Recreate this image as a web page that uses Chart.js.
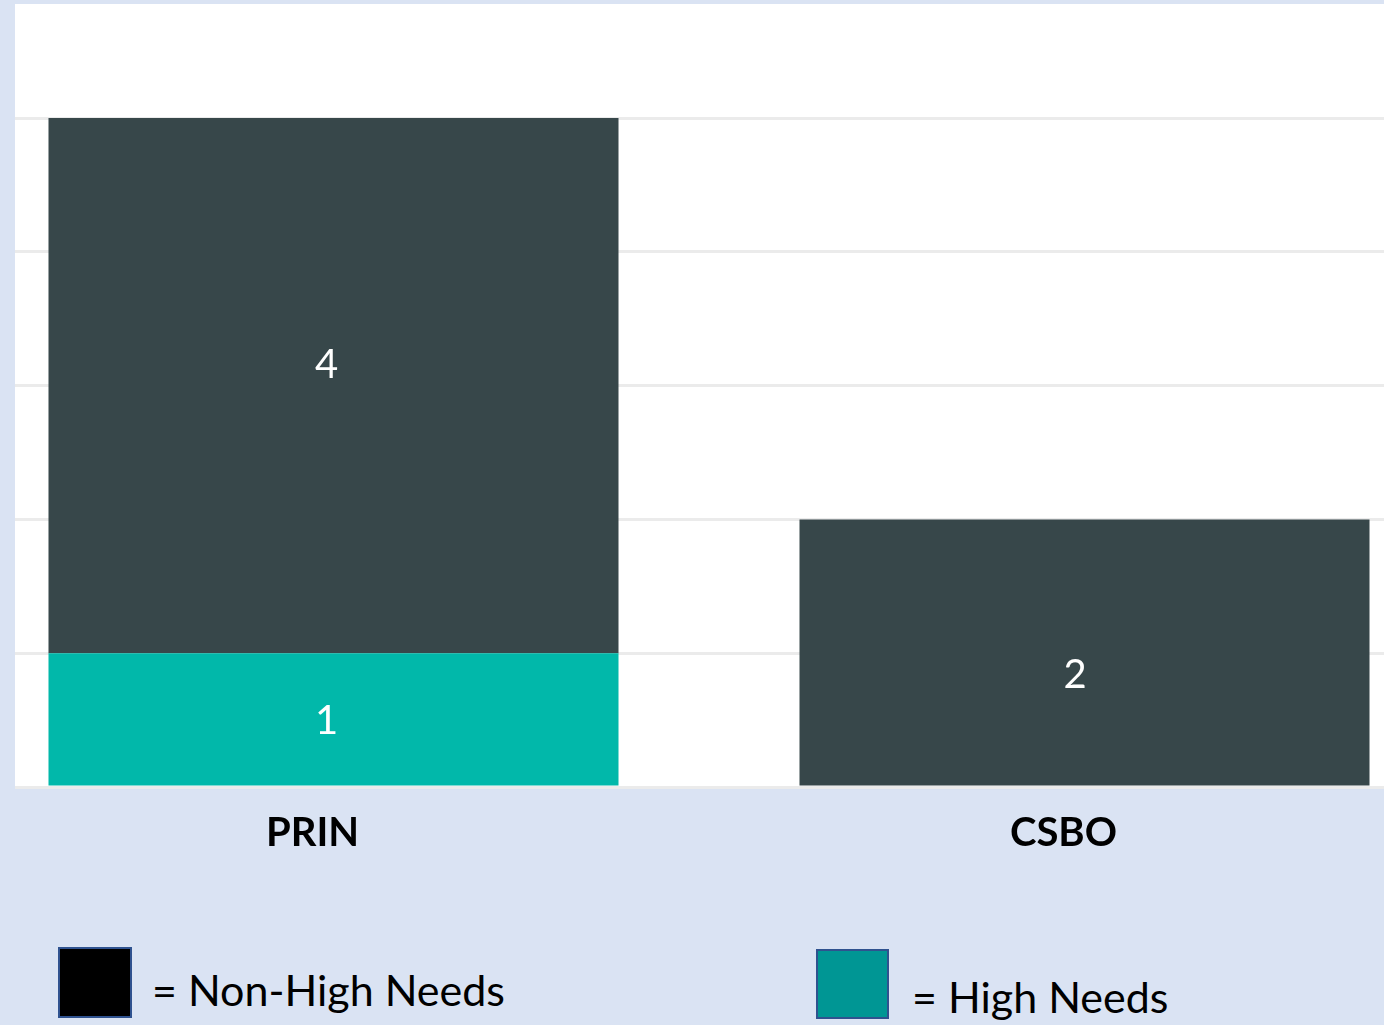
<!DOCTYPE html>
<html><head><meta charset="utf-8">
<script src="https://cdn.jsdelivr.net/npm/chart.js@4"></script>
<style>
html,body{margin:0;padding:0;width:1384px;height:1025px;overflow:hidden;background:#dae3f3;font-family:Lato,sans-serif;}
#plotbg{position:absolute;left:15px;top:4px;width:1369px;height:785px;background:#fff;}
#clip{position:absolute;left:15px;top:0;width:1369px;height:900px;overflow:hidden;}
#wrap{position:absolute;left:-57px;top:0;width:1502px;height:900px;}
.sw{position:absolute;box-sizing:border-box;border:2px solid #2f528f;}
.lt{position:absolute;font-family:Lato,sans-serif;font-size:43px;color:#000;white-space:nowrap;line-height:1;}
</style></head>
<body>
<div id="plotbg"></div>
<div id="clip"><div id="wrap"><canvas id="c"></canvas></div></div>
<div class="sw" style="left:58px;top:947px;width:74px;height:71px;background:#000;"></div>
<div class="lt" style="left:152px;top:968px;">= Non-High Needs</div>
<div class="sw" style="left:816px;top:949px;width:73px;height:70px;background:#009694;"></div>
<div class="lt" style="left:912px;top:975px;">= High Needs</div>
<script>
const categories = ['PRIN', 'CSBO'];
const nonHighNeeds = [4, 2];
const highNeeds = [1, 0];
const yTicks = [0, 1, 2, 3, 4, 5];
const seriesNames = ['High Needs', 'Non-High Needs'];

const valueLabels = {
  id: 'valueLabels',
  afterDatasetsDraw(chart, args, opts) {
    const ctx = chart.ctx;
    ctx.save();
    ctx.font = '400 40px Lato, sans-serif';
    ctx.fillStyle = '#ffffff';
    ctx.textAlign = 'center';
    ctx.textBaseline = 'alphabetic';
    chart.data.datasets.forEach((ds, di) => {
      const meta = chart.getDatasetMeta(di);
      meta.data.forEach((bar, i) => {
        const v = ds.data[i];
        if (!v) return;
        const p = bar.getProps(['x', 'y', 'base'], true);
        const off = (opts.offsets[di] || [])[i] || [0, 0];
        const cy = (p.y + p.base) / 2 + off[1];
        ctx.fillText(String(v), p.x + off[0], cy + 14.4);
      });
    });
    ctx.restore();
  }
};

new Chart(document.getElementById('c'), {
  type: 'bar',
  data: {
    labels: categories,
    datasets: [
      { label: seriesNames[0], data: highNeeds, backgroundColor: '#01b8aa', borderWidth: 0 },
      { label: seriesNames[1], data: nonHighNeeds, backgroundColor: '#37474a', borderWidth: 0 }
    ]
  },
  options: {
    responsive: true,
    maintainAspectRatio: false,
    animation: false,
    layout: { padding: { top: 118, left: 0, right: 0, bottom: 0 } },
    datasets: { bar: { categoryPercentage: 1, barPercentage: 0.759 } },
    plugins: {
      legend: { display: false },
      tooltip: { enabled: false },
      valueLabels: { offsets: [[[-7, 0]], [[-7, -22.5], [-9.5, 21]]] }
    },
    scales: {
      x: {
        stacked: true,
        grid: { display: false },
        border: { display: false },
        ticks: { color: '#000', font: { family: 'Lato', weight: 'bold', size: 40 }, padding: 14, labelOffset: -21, maxRotation: 0 },
        afterFit(s) { s.height = 113; }
      },
      y: {
        stacked: true,
        min: 0, max: 5,
        afterBuildTicks(s) { s.ticks = yTicks.map(v => ({ value: v })); },
        ticks: { display: false },
        border: { display: false },
        grid: { color: '#ebebeb', lineWidth: 3, drawTicks: false },
        afterFit(s) { s.width = 0; }
      }
    }
  },
  plugins: [valueLabels]
});
</script>
</body></html>
